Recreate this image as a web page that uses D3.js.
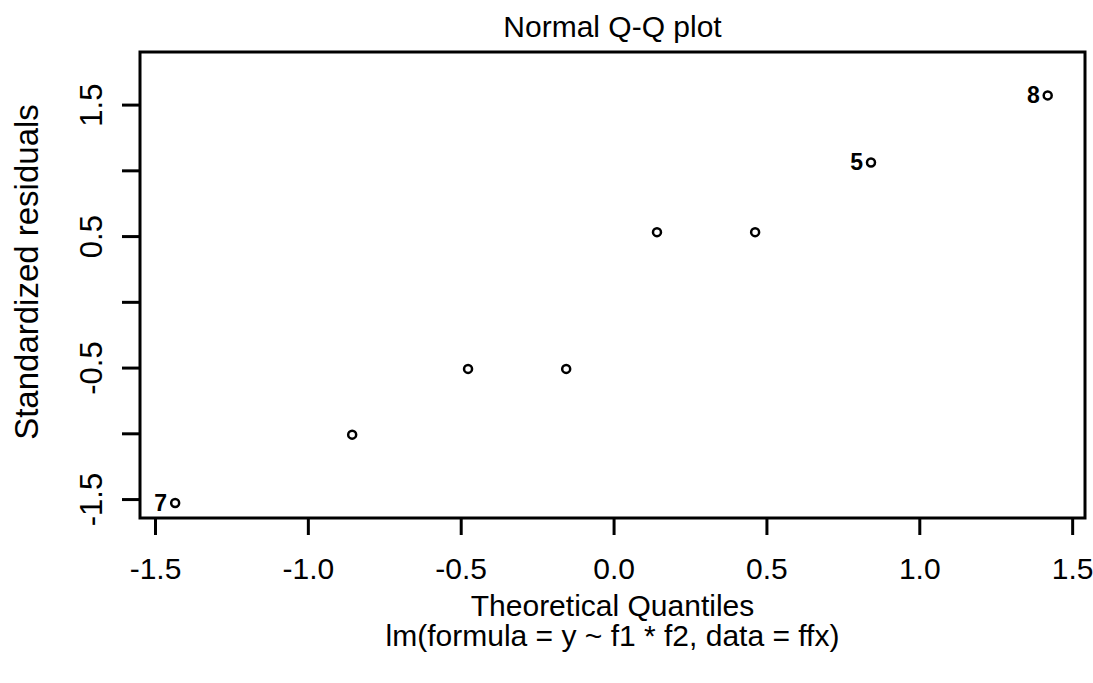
<!DOCTYPE html>
<html>
<head>
<meta charset="utf-8">
<script src="https://cdn.jsdelivr.net/npm/d3@7"></script>
<style>
  body { margin: 0; background: #fff; }
  text { font-family: "Liberation Sans", Arial, sans-serif; fill: #000; }
</style>
</head>
<body>
<svg id="drawing_region"></svg>
<script>
// data
const quantiles = [-1.434, -0.855, -0.476, -0.155, 0.142, 0.463, 0.842, 1.42];
const residuals = [-1.53, -1.01, -0.51, -0.51, 0.53, 0.53, 1.06, 1.57];
const pointLabels = ["7", "", "", "", "", "", "5", "8"];
const xTicks = [-1.5, -1.0, -0.5, 0.0, 0.5, 1.0, 1.5];
const yTicks = [-1.5, -1.0, -0.5, 0.0, 0.5, 1.0, 1.5];
const yTickLabels = [-1.5, -0.5, 0.5, 1.5];

var config = {
    parent: '#drawing_region',
    width: 1093,
    height: 683,
    margin: { top: 52, right: 8, bottom: 165, left: 140 },
    xdomain: [-1.549, 1.542],
    ydomain: [-1.644, 1.90],
    title: "Normal Q-Q plot",
    xlabel: "Theoretical Quantiles",
    subtitle: "lm(formula = y ~ f1 * f2, data = ffx)",
    ylabel: "Standardized residuals",
};

// R style labels: plain hyphen, one decimal
const fmt = d => d.toFixed(1);

const svg = d3.select(config.parent)
    .attr('width', config.width)
    .attr('height', config.height);

const inner_width = config.width - config.margin.left - config.margin.right;
const inner_height = config.height - config.margin.top - config.margin.bottom;

const chart = svg.append('g')
    .attr('transform', `translate(${config.margin.left}, ${config.margin.top})`);

const xscale = d3.scaleLinear().domain(config.xdomain).range([0, inner_width]);
const yscale = d3.scaleLinear().domain(config.ydomain).range([inner_height, 0]);

// x axis
const xaxis = d3.axisBottom(xscale)
    .tickValues(xTicks)
    .tickSize(17)
    .tickFormat(fmt);

const xaxis_group = chart.append('g')
    .attr('transform', `translate(0, ${inner_height})`)
    .call(xaxis);
xaxis_group.select('.domain').remove();
xaxis_group.selectAll('line').attr('stroke-width', 3);
xaxis_group.selectAll('text')
    .attr('font-size', '30px')
    .attr('y', 61)
    .attr('dy', null);

// y axis
const yaxis = d3.axisLeft(yscale)
    .tickValues(yTicks)
    .tickSize(18)
    .tickFormat(d => yTickLabels.includes(d) ? fmt(d) : "");

const yaxis_group = chart.append('g')
    .call(yaxis);
yaxis_group.select('.domain').remove();
yaxis_group.selectAll('line').attr('stroke-width', 3);
yaxis_group.selectAll('text')
    .attr('font-size', '31px')
    .attr('x', null)
    .attr('dy', null)
    .attr('text-anchor', 'middle')
    .attr('transform', 'translate(-38, 0) rotate(-90)');

// box
chart.append('rect')
    .attr('x', 0)
    .attr('y', 0)
    .attr('width', inner_width)
    .attr('height', inner_height)
    .attr('fill', 'none')
    .attr('stroke', '#000')
    .attr('stroke-width', 3);

// points
chart.selectAll('circle')
    .data(quantiles)
    .enter()
    .append('circle')
    .attr('cx', d => xscale(d))
    .attr('cy', (d, i) => yscale(residuals[i]))
    .attr('r', 4)
    .attr('fill', 'none')
    .attr('stroke', '#000')
    .attr('stroke-width', 2.5);

chart.selectAll('.ptlabel')
    .data(quantiles)
    .enter()
    .append('text')
    .attr('class', 'ptlabel')
    .attr('x', d => xscale(d) - 8)
    .attr('y', (d, i) => yscale(residuals[i]) + 8)
    .attr('text-anchor', 'end')
    .attr('font-size', '23px')
    .attr('font-weight', 'bold')
    .text((d, i) => pointLabels[i]);

// title
svg.append('text')
    .attr('x', config.margin.left + inner_width / 2)
    .attr('y', 37)
    .attr('font-size', '30px')
    .attr('text-anchor', 'middle')
    .text(config.title);

// xlabel
svg.append('text')
    .attr('x', config.margin.left + inner_width / 2)
    .attr('y', 616)
    .attr('font-size', '30px')
    .attr('text-anchor', 'middle')
    .text(config.xlabel);

svg.append('text')
    .attr('x', config.margin.left + inner_width / 2)
    .attr('y', 646)
    .attr('font-size', '30px')
    .attr('text-anchor', 'middle')
    .text(config.subtitle);

// ylabel
svg.append('text')
    .attr('transform', 'translate(38, 272) rotate(-90)')
    .attr('font-size', '33px')
    .attr('text-anchor', 'middle')
    .text(config.ylabel);
</script>
</body>
</html>
